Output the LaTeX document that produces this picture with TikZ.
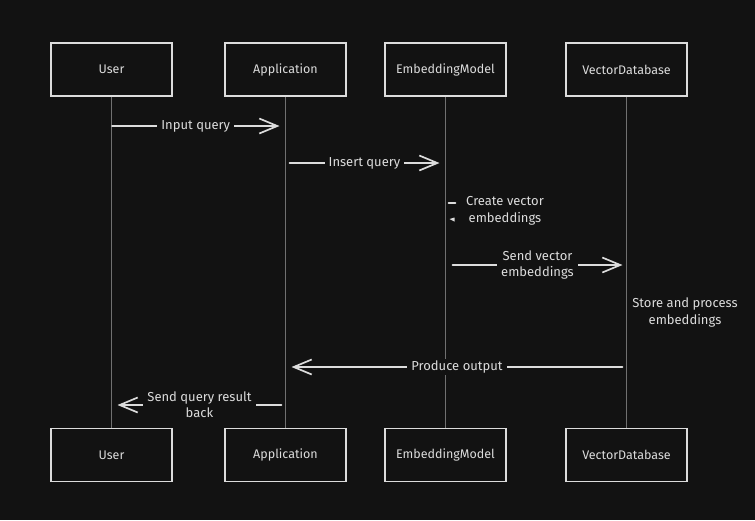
\documentclass[tikz,border=0pt]{standalone}
\usepackage{fontspec}
\setmainfont{Fira Sans}
\usetikzlibrary{arrows.meta,calc}
\definecolor{bg}{HTML}{121212}
\definecolor{ink}{HTML}{DCDCDC}
\definecolor{life}{HTML}{707070}
\begin{document}
\begin{tikzpicture}[x=1pt,y=-1pt,
  actor/.style={draw=ink, line width=1.5pt, minimum width=121pt, minimum height=53pt,
    text=ink, font=\fontsize{12.5}{14}\selectfont, inner sep=0pt},
  lifeline/.style={draw=life, line width=1pt},
  msg/.style={draw=ink, line width=1.7pt, line cap=round},
  tip/.style={-{Straight Barb[length=18pt,width=15pt,line width=1.7pt]}},
  lbl/.style={text=ink, font=\fontsize{13}{16}\selectfont, align=center, fill=bg, inner xsep=4pt, inner ysep=2pt},
  note/.style={text=ink, font=\fontsize{13}{16.5}\selectfont, align=center, inner sep=0pt}]
\fill[bg] (0,0) rectangle (755,520);
\useasboundingbox (0,0) rectangle (755,520);

% actors top
\node[actor] (uT) at (111.5,69.5) {User};
\node[actor] (aT) at (285.5,69.5) {Application};
\node[actor] (eT) at (445.5,69.5) {EmbeddingModel};
\node[actor] (vT) at (626.5,69.5) {VectorDatabase};
% actors bottom
\node[actor] (uB) at (111.5,455) {User};
\node[actor] (aB) at (285.5,455) {Application};
\node[actor] (eB) at (445.5,455) {EmbeddingModel};
\node[actor] (vB) at (626.5,455) {VectorDatabase};

% lifelines
\draw[lifeline] (uT.south) -- (uB.north);
\draw[lifeline] (aT.south) -- (aB.north);
\draw[lifeline] (eT.south) -- (eB.north);
\draw[lifeline] (vT.south) -- (vB.north);

% message end points
\coordinate (m1a) at ($(uT.south |- 0,126)+(0.5,0)$);
\coordinate (m1b) at ($(aT.south |- 0,126)+(-6,0)$);
\coordinate (m2a) at ($(aT.south |- 0,163)+(4,0)$);
\coordinate (m2b) at ($(eT.south |- 0,163)+(-6,0)$);
\coordinate (m4a) at ($(eT.south |- 0,265)+(7,0)$);
\coordinate (m4b) at ($(vT.south |- 0,265)+(-4,0)$);
\coordinate (m6a) at ($(vT.south |- 0,367)+(-4,0)$);
\coordinate (m6b) at ($(aT.south |- 0,367)+(6,0)$);
\coordinate (m7a) at ($(aT.south |- 0,405)+(-4,0)$);
\coordinate (m7b) at ($(uT.south |- 0,405)+(6,0)$);

% messages
\draw[msg,tip] (m1a) -- node[lbl] {Input query} (m1b);
\draw[msg,tip] (m2a) -- node[lbl] {Insert query} (m2b);
\draw[msg,tip] (m4a) -- node[lbl] {Send vector\\embeddings} (m4b);
\draw[msg,tip] (m6a) -- node[lbl] {Produce output} (m6b);
\draw[msg,tip] (m7a) -- node[lbl] {Send query result\\back} (m7b);

% self message on EmbeddingModel
\coordinate (s1a) at ($(eT.south |- 0,203)+(3,0)$);
\coordinate (s1b) at ($(eT.south |- 0,203)+(10,0)$);
\draw[msg] (s1a) -- (s1b);
\coordinate (s1c) at ($(eT.south |- 0,219)+(4,0)$);
\fill[ink] (s1c) -- ++(5,-1.5) -- ++(0,4) -- cycle;
\node[note] (n1) at (505,211) {Create vector\\embeddings};

% note on VectorDatabase
\node[note] (n2) at (685,312.5) {Store and process\\embeddings};
\end{tikzpicture}
\end{document}
